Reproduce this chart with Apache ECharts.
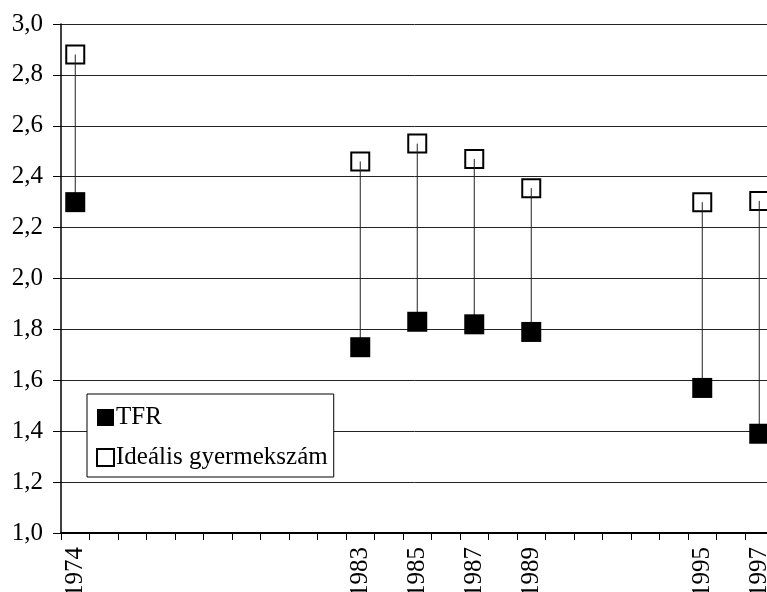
<!DOCTYPE html>
<html>
<head>
<meta charset="utf-8">
<script src="https://cdn.jsdelivr.net/npm/echarts@6/dist/echarts.min.js"></script>
<style>html,body{margin:0;padding:0;background:#fff}#c{width:767px;height:592px}</style>
</head>
<body>
<div id="c"></div>
<script>
// Category slots along the x axis (blank slots carry no label)
var categories = ['1974','','','','','','','','','','1983','','1985','','1987','','1989','','','','','','1995','','1997'];
var years = ['1974','1983','1985','1987','1989','1995','1997'];
var tfr = [2.30, 1.73, 1.83, 1.82, 1.79, 1.57, 1.39];
var ideal = [2.88, 2.46, 2.53, 2.47, 2.355, 2.30, 2.305];
var yTicks = [1.0, 1.2, 1.4, 1.6, 1.8, 2.0, 2.2, 2.4, 2.6, 2.8, 3.0];

var font = "Liberation Serif";
var tfrData = years.map(function (y, i) { return [y, tfr[i]]; });
var idealData = years.map(function (y, i) { return [y, ideal[i]]; });
var rangeData = years.map(function (y, i) { return [y, ideal[i], tfr[i]]; });

var chart = echarts.init(document.getElementById('c'), null, {renderer: 'canvas'});
chart.setOption({
  animation: false,
  backgroundColor: '#fff',
  grid: {left: 61, top: 24, width: 712.5, height: 509, containLabel: false, outerBoundsMode: 'none'},
  xAxis: {
    type: 'category',
    data: categories,
    boundaryGap: true,
    axisLine: {show: true, lineStyle: {color: '#000', width: 2}},
    axisTick: {show: true, interval: 0, length: 7, lineStyle: {color: '#000', width: 1}},
    axisLabel: {interval: 0, rotate: 90, margin: 14, color: '#000', fontFamily: font, fontSize: 25},
    splitLine: {show: false}
  },
  yAxis: {
    type: 'value',
    min: yTicks[0], max: yTicks[yTicks.length - 1], interval: 0.2,
    axisLine: {show: true, lineStyle: {color: '#000', width: 1.5}},
    axisTick: {show: true, length: 8, lineStyle: {color: '#000'}},
    axisLabel: {margin: 18, color: '#000', fontFamily: font, fontSize: 25,
      formatter: function (v) { return v.toFixed(1).replace('.', ','); }},
    splitLine: {show: true, lineStyle: {color: '#222', width: 1}}
  },
  legend: {
    orient: 'vertical',
    left: 87, top: 394,
    padding: [11, 6, 7, 9],
    itemGap: 15,
    itemWidth: 17, itemHeight: 17,
    backgroundColor: '#fff',
    borderColor: '#000', borderWidth: 1,
    textStyle: {color: '#000', fontFamily: font, fontSize: 25, padding: [0, 0, 0, -3]},
    data: [
      {name: 'TFR', icon: 'rect'},
      {name: 'Ideális gyermekszám', icon: 'rect'}
    ]
  },
  series: [
    {
      name: 'Ideális gyermekszám', type: 'scatter', data: idealData,
      symbol: 'rect', symbolSize: 18, z: 2,
      itemStyle: {color: '#fff', borderColor: '#000', borderWidth: 2, opacity: 1}
    },
    {
      name: 'range', type: 'custom', data: rangeData, z: 3,
      renderItem: function (params, api) {
        var a = api.coord([api.value(0), api.value(1)]);
        var b = api.coord([api.value(0), api.value(2)]);
        return {type: 'line', shape: {x1: a[0], y1: a[1], x2: b[0], y2: b[1]},
          style: {stroke: '#222', lineWidth: 1}};
      },
      encode: {x: 0, y: [1, 2]}
    },
    {
      name: 'TFR', type: 'scatter', data: tfrData,
      symbol: 'rect', symbolSize: 20, z: 4,
      itemStyle: {color: '#000', opacity: 1}
    }
  ]
});
</script>
</body>
</html>
